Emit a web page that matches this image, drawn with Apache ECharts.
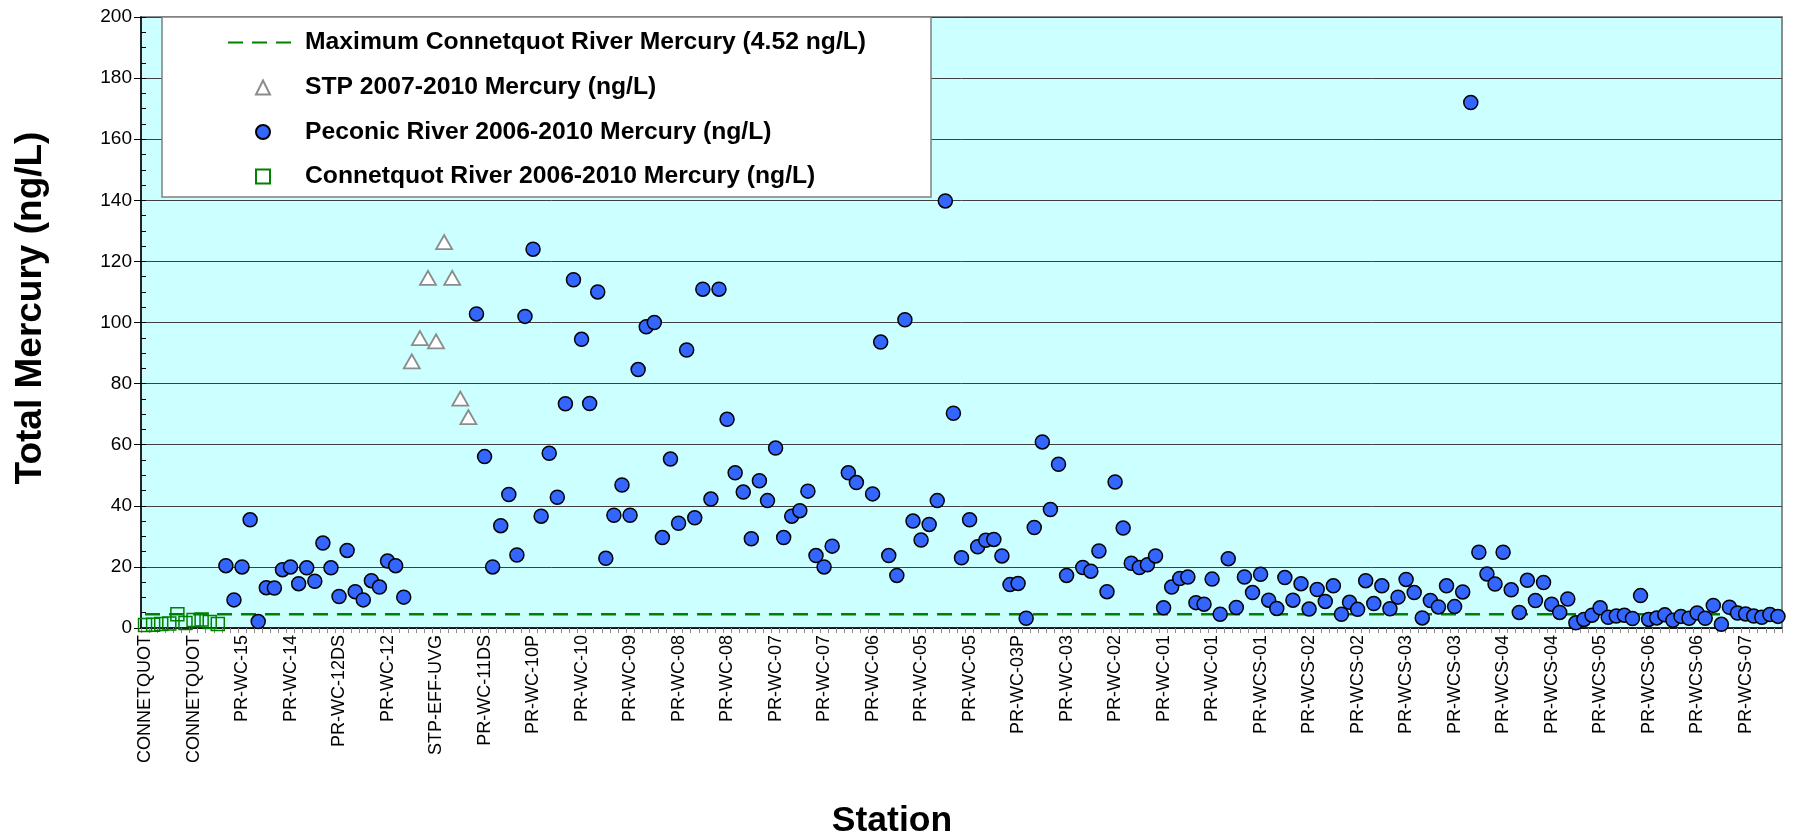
<!DOCTYPE html>
<html>
<head>
<meta charset="utf-8">
<title>Total Mercury by Station</title>
<script src="https://cdn.jsdelivr.net/npm/echarts@6/dist/echarts.min.js"></script>
<style>
  html, body { margin: 0; padding: 0; background: #ffffff; }
  #chart { width: 1801px; height: 833px; }
</style>
</head>
<body>
<div id="chart"></div>
<script>
// Station labels shown under every sixth sample on the x axis
const stationTicks = [
  'CONNETQUOT', 'CONNETQUOT', 'PR-WC-15', 'PR-WC-14', 'PR-WC-12DS', 'PR-WC-12',
  'STP-EFF-UVG', 'PR-WC-11DS', 'PR-WC-10P', 'PR-WC-10', 'PR-WC-09', 'PR-WC-08',
  'PR-WC-08', 'PR-WC-07', 'PR-WC-07', 'PR-WC-06', 'PR-WC-05', 'PR-WC-05',
  'PR-WC-03P', 'PR-WC-03', 'PR-WC-02', 'PR-WC-01', 'PR-WC-01', 'PR-WCS-01',
  'PR-WCS-02', 'PR-WCS-02', 'PR-WCS-03', 'PR-WCS-03', 'PR-WCS-04', 'PR-WCS-04',
  'PR-WCS-05', 'PR-WCS-06', 'PR-WCS-06', 'PR-WCS-07'
];
const sampleCount = 203;
const labelEvery = 6;

// Maximum Connetquot River mercury (ng/L)
const connetquotMax = 4.52;

// Connetquot River 2006-2010 samples (ng/L), samples 0-9
const connetquotStart = 0;
const connetquotHg = [1.0, 1.1, 1.3, 1.5, 4.52, 1.6, 2.6, 2.8, 2.0, 1.3];

// STP 2007-2010 samples (ng/L), samples 33-40
const stpStart = 33;
const stpHg = [87.3, 94.9, 114.6, 93.8, 126.3, 114.6, 75.1, 69.0];

// Peconic River 2006-2010 samples (ng/L), samples 10-202 (null = no result)
const peconicStart = 10;
const peconicHg = [
  20.4, 9.2, 20.0, 35.4, 2.1, 13.2, 13.1, 19.1, 20.0, 14.5,          // 10-19
  19.7, 15.3, 27.8, 19.7, 10.3, 25.4, 11.9, 9.2, 15.5, 13.4,         // 20-29
  21.9, 20.4, 10.1, null, null, null, null, null, null, null,        // 30-39
  null, 102.8, 56.1, 20.0, 33.5, 43.7, 23.9, 102.0, 124.0, 36.6,     // 40-49
  57.2, 42.8, 73.4, 114.0, 94.5, 73.5, 110.0, 22.8, 36.9, 46.8,      // 50-59
  36.9, 84.6, 98.6, 100.0, 29.6, 55.3, 34.3, 91.0, 36.1, 110.9,      // 60-69
  42.2, 110.9, 68.3, 50.8, 44.5, 29.2, 48.2, 41.7, 58.9, 29.6,       // 70-79
  36.6, 38.4, 44.8, 23.7, 20.0, 26.8, null, 50.8, 47.6, null,        // 80-89
  43.9, 93.6, 23.7, 17.2, 100.9, 35.0, 28.8, 33.9, 41.7, 139.8,      // 90-99
  70.3, 23.0, 35.4, 26.6, 28.7, 29.0, 23.6, 14.2, 14.6, 3.2,         // 100-109
  32.9, 60.9, 38.8, 53.6, 17.2, null, 19.8, 18.6, 25.2, 11.9,        // 110-119
  47.8, 32.7, 21.2, 19.8, 20.7, 23.6, 6.6, 13.4, 16.2, 16.7,         // 120-129
  8.3, 7.8, 16.0, 4.5, 22.7, 6.7, 16.7, 11.6, 17.6, 9.1,             // 130-139
  6.4, 16.5, 9.1, 14.5, 6.2, 12.6, 8.7, 13.8, 4.5, 8.4,              // 140-149
  6.1, 15.5, 8.0, 13.8, 6.3, 10.1, 15.9, 11.6, 3.3, 9.0,             // 150-159
  6.9, 13.8, 7.0, 11.8, 172.0, 24.8, 17.7, 14.4, 24.8, 12.5,         // 160-169
  5.1, 15.6, 9.0, 14.9, 7.8, 5.1, 9.5, 1.7, 2.8, 4.2,                // 170-179
  6.6, 3.5, 3.9, 4.2, 3.1, 10.6, 2.8, 3.3, 4.3, 2.5,                 // 180-189
  3.8, 3.2, 4.9, 3.2, 7.4, 1.2, 6.8, 4.9, 4.6, 3.9,                  // 190-199
  3.5, 4.4, 3.8                                                      // 200-202
];

// Series names as they appear in the legend
const nameMax = 'Maximum Connetquot River Mercury (4.52 ng/L)';
const nameStp = 'STP 2007-2010 Mercury (ng/L)';
const namePeconic = 'Peconic River 2006-2010 Mercury (ng/L)';
const nameConnetquot = 'Connetquot River 2006-2010 Mercury (ng/L)';

// Category names: a station label on every sixth sample, blank elsewhere
const categories = [];
for (let i = 0; i < sampleCount; i++) {
  categories.push(i % labelEvery === 0 ? (stationTicks[i / labelEvery] || '') : '');
}

function toPoints(start, values) {
  const pts = [];
  values.forEach(function (v, k) {
    if (v !== null) pts.push([start + k, v]);
  });
  return pts;
}

const FONT = 'Liberation Sans, Arial, Helvetica, sans-serif';
const legendText = { fontFamily: FONT, fontSize: 24.7, fontWeight: 'bold', color: '#000000' };

const chart = echarts.init(document.getElementById('chart'), null, { renderer: 'canvas' });

const option = {
  animation: false,
  backgroundColor: '#ffffff',
  textStyle: { fontFamily: FONT, color: '#000000' },
  grid: {
    left: 141,
    top: 17,
    width: 1641,
    height: 611,
    show: true,
    backgroundColor: '#CCFFFF',
    borderColor: '#8c8c8c',
    borderWidth: 2,
    containLabel: false
  },
  legend: [
    {
      // dashed reference line entry
      orient: 'vertical',
      left: 227,
      top: 30,
      padding: 0,
      itemWidth: 70,
      itemHeight: 14,
      selectedMode: false,
      textStyle: Object.assign({ padding: [0, 0, 0, 2] }, legendText),
      data: [nameMax]
    },
    {
      // marker entries
      orient: 'vertical',
      left: 255,
      top: 75,
      padding: 0,
      itemWidth: 14,
      itemHeight: 14,
      itemGap: 19.5,
      selectedMode: false,
      textStyle: Object.assign({ padding: [0, 0, 0, 30] }, legendText),
      data: [nameStp, namePeconic, nameConnetquot]
    }
  ],
  graphic: [
    {
      type: 'rect',
      z: 3,
      shape: { x: 162, y: 17, width: 769, height: 180 },
      style: { fill: '#ffffff', stroke: '#808080', lineWidth: 1.5 }
    },
    {
      type: 'text',
      z: 5,
      x: 31,
      y: 308,
      rotation: Math.PI / 2,
      style: {
        text: 'Total Mercury (ng/L)',
        font: 'bold 37px ' + FONT,
        fill: '#000000',
        align: 'center',
        verticalAlign: 'middle'
      }
    },
    {
      type: 'text',
      z: 5,
      x: 892,
      y: 821,
      style: {
        text: 'Station',
        font: 'bold 35.5px ' + FONT,
        fill: '#000000',
        align: 'center',
        verticalAlign: 'middle'
      }
    }
  ],
  xAxis: {
    type: 'category',
    data: categories,
    boundaryGap: true,
    axisLine: { show: true, onZero: false, lineStyle: { color: '#000000', width: 1.5 } },
    axisTick: { show: true, interval: 0, length: 5, lineStyle: { color: '#8c8c8c', width: 1 } },
    axisLabel: {
      interval: labelEvery - 1,
      rotate: 90,
      margin: 7,
      fontSize: 18,
      fontFamily: FONT,
      color: '#000000'
    },
    splitLine: { show: false }
  },
  yAxis: [
    {
      type: 'value',
      min: 0,
      max: 200,
      interval: 20,
      position: 'left',
      axisLine: { show: true, onZero: false, lineStyle: { color: '#000000', width: 1.5 } },
      axisTick: { show: true, length: 7, lineStyle: { color: '#000000', width: 1 } },
      axisLabel: { fontSize: 19, margin: 9, fontFamily: FONT, color: '#000000' },
      splitLine: { show: true, lineStyle: { color: '#404040', width: 1 } }
    },
    {
      // inside minor ticks every 5 ng/L
      type: 'value',
      min: 0,
      max: 200,
      interval: 5,
      position: 'left',
      offset: 0,
      axisLine: { show: false },
      axisTick: { show: true, inside: true, length: 5, lineStyle: { color: '#000000', width: 1 } },
      axisLabel: { show: false },
      splitLine: { show: false }
    }
  ],
  series: [
    {
      name: nameMax,
      type: 'line',
      z: 1,
      symbol: 'none',
      silent: true,
      data: [[0, connetquotMax], [sampleCount - 1, connetquotMax]],
      lineStyle: { color: '#008000', width: 2.5, type: [15, 9] },
      itemStyle: { color: 'rgba(0,0,0,0)', borderWidth: 0 }
    },
    {
      name: nameStp,
      type: 'scatter',
      z: 2,
      symbol: 'triangle',
      symbolSize: [16, 14],
      data: toPoints(stpStart, stpHg),
      itemStyle: { color: '#ffffff', borderColor: '#8c8c8c', borderWidth: 1.8, opacity: 1 }
    },
    {
      name: namePeconic,
      type: 'scatter',
      z: 2,
      symbol: 'circle',
      symbolSize: 14,
      data: toPoints(peconicStart, peconicHg),
      itemStyle: { color: '#3366FF', borderColor: '#000000', borderWidth: 1.5, opacity: 1 }
    },
    {
      name: nameConnetquot,
      type: 'scatter',
      z: 2,
      symbol: 'rect',
      symbolSize: 13,
      data: toPoints(connetquotStart, connetquotHg),
      itemStyle: { color: 'rgba(0,0,0,0)', borderColor: '#008000', borderWidth: 1.5, opacity: 1 }
    }
  ]
};

chart.setOption(option);
</script>
</body>
</html>
